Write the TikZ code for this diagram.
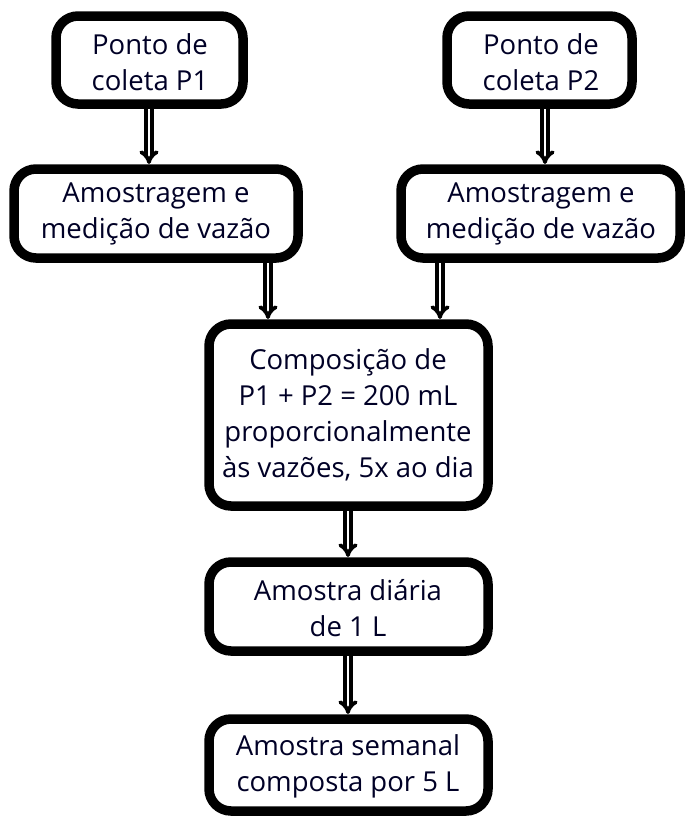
\documentclass[tikz,border=0pt]{standalone}
\usepackage{fontspec}
\setmainfont{Open Sans}
\usetikzlibrary{arrows.meta}
\begin{document}
\begin{tikzpicture}[x=1pt,y=-1pt,
  box/.style={draw=black, line width=9.5pt, rounded corners=22pt, fill=white},
  lbl/.style={align=center, font=\fontsize{27.5}{36}\selectfont, text=black!85!blue, inner sep=0pt},
  flow/.style={double=white, double distance=2pt, line width=3.8pt, -{Implies}, draw=black}]
\useasboundingbox (0,0) rectangle (685,819);
\draw[box] (56,16) rectangle (243,104);
\node[lbl] (p1) at (150,62) {Ponto de\\coleta P1};
\draw[box] (447,16) rectangle (632,104);
\node[lbl] (p2) at (541,62) {Ponto de\\coleta P2};
\draw[box] (14,169) rectangle (298,258);
\node[lbl] (a1) at (156,214) {Amostragem e\\medição de vazão};
\draw[box] (401,169) rectangle (680,258);
\node[lbl] (a2) at (541,214) {Amostragem e\\medição de vazão};
\draw[box] (209,324) rectangle (488,506);
\node[lbl] (c) at (348,415) {Composição de\\P1 + P2 = 200 mL\\proporcionalmente\\às vazões, 5x ao dia};
\draw[box] (209,562) rectangle (488,651);
\node[lbl] (d) at (348,608) {Amostra diária\\de 1 L};
\draw[box] (209,719) rectangle (488,811);
\node[lbl] (s) at (348,766) {Amostra semanal\\composta por 5 L};
\coordinate (e1a) at (149,109); \coordinate (e1b) at (149,164);
\coordinate (e2a) at (545,109); \coordinate (e2b) at (545,164);
\coordinate (e3a) at (268,263); \coordinate (e3b) at (268,319);
\coordinate (e4a) at (440,263); \coordinate (e4b) at (440,319);
\coordinate (e5a) at (348,511); \coordinate (e5b) at (348,557);
\coordinate (e6a) at (348,656); \coordinate (e6b) at (348,714);
\draw[flow] (e1a) -- (e1b);
\draw[flow] (e2a) -- (e2b);
\draw[flow] (e3a) -- (e3b);
\draw[flow] (e4a) -- (e4b);
\draw[flow] (e5a) -- (e5b);
\draw[flow] (e6a) -- (e6b);
\end{tikzpicture}
\end{document}
